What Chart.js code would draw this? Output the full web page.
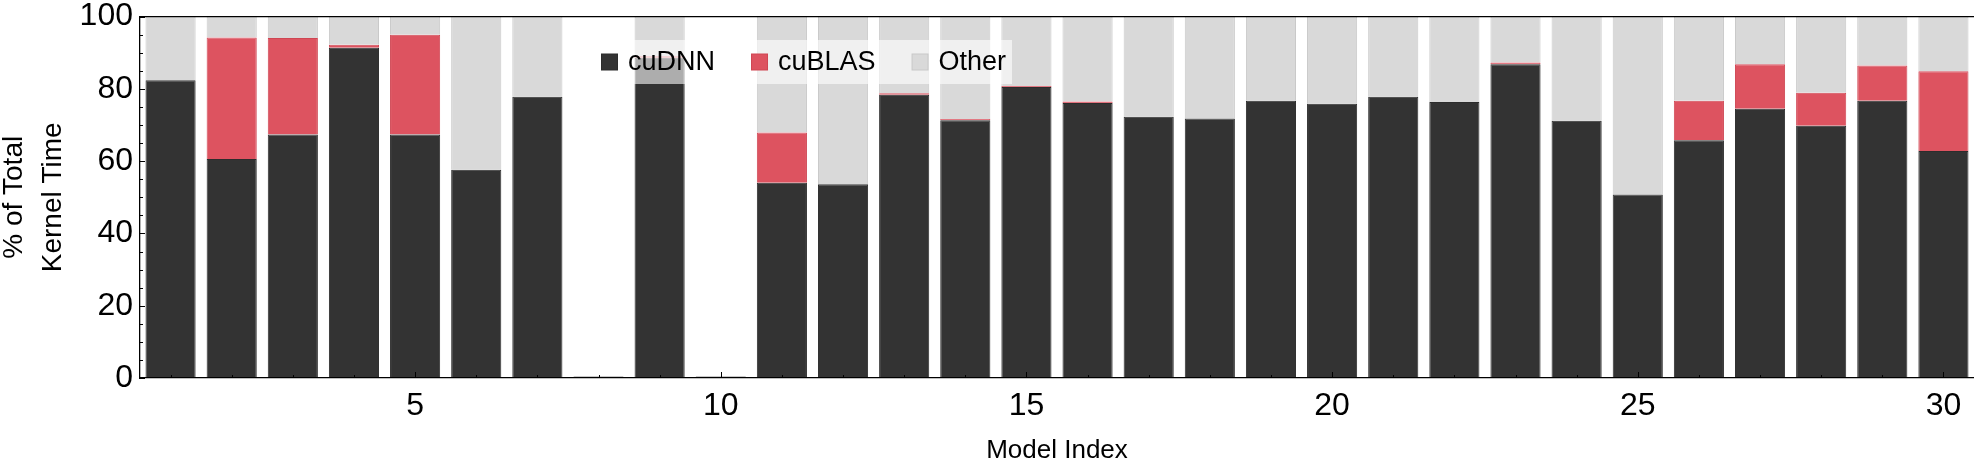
<!DOCTYPE html>
<html>
<head>
<meta charset="utf-8">
<script src="https://cdn.jsdelivr.net/npm/chart.js@4.4.0/dist/chart.umd.min.js"></script>
<style>
  html, body { margin: 0; padding: 0; background: #fff; }
  #wrap { width: 1974px; height: 459px; }
</style>
</head>
<body>
<div id="wrap"><canvas id="kernel-chart"></canvas></div>
<script>
// Data
const modelIndex = ['1','2','3','4','5','6','7','8','9','10','11','12','13','14','15',
  '16','17','18','19','20','21','22','23','24','25','26','27','28','29','30'];
const cudnn = [82.4, 60.6, 67.4, 91.4, 67.4, 57.6, 77.8, 0, 88.6, 0,
  54.0, 53.6, 78.4, 71.3, 80.5, 76.1, 72.3, 71.8, 76.7, 75.9,
  77.8, 76.4, 86.8, 71.2, 50.8, 65.8, 74.5, 69.8, 76.7, 62.8];
const cublas = [0, 33.6, 26.7, 0.8, 27.6, 0, 0, 0, 0.4, 0,
  13.9, 0, 0.4, 0.4, 0.3, 0.4, 0, 0, 0, 0,
  0, 0, 0.5, 0, 0, 10.9, 12.3, 9.1, 9.8, 22.1];
const other = [17.6, 5.8, 5.9, 7.8, 5.0, 42.4, 22.2, 0, 11.0, 0,
  32.1, 46.4, 21.2, 28.3, 19.2, 23.5, 27.7, 28.2, 23.3, 24.1,
  22.2, 23.6, 12.7, 28.8, 49.2, 23.3, 13.2, 21.1, 13.5, 15.1];
const xTickLabels = ['5', '10', '15', '20', '25', '30'];
const yTickLabels = [0, 20, 40, 60, 80, 100];

const FONT = '"Liberation Sans", Arial, Helvetica, sans-serif';
Chart.defaults.font.family = FONT;
Chart.defaults.color = '#000';

// inward ticks, top frame line and the legend box
const framePlugin = {
  id: 'frame',
  afterDraw(chart) {
    const c = chart.ctx;
    const area = chart.chartArea;
    const xs = chart.scales.x;
    const ys = chart.scales.y;
    c.save();
    c.strokeStyle = '#000';
    c.lineWidth = 1.3;
    c.beginPath();
    c.moveTo(area.left, area.top);
    c.lineTo(area.right, area.top);
    c.stroke();

    c.lineWidth = 1;
    c.beginPath();
    for (let v = 0; v <= 100; v += 5) {
      const py = Math.round(ys.getPixelForValue(v)) + 0.5;
      const len = yTickLabels.includes(v) ? 5 : 3;
      c.moveTo(area.left, py);
      c.lineTo(area.left + len, py);
    }
    modelIndex.forEach((lab, i) => {
      const px = Math.round(xs.getPixelForValue(i)) + 0.5;
      const len = xTickLabels.includes(lab) ? 6 : 3;
      c.moveTo(px, area.bottom);
      c.lineTo(px, area.bottom - len);
    });
    c.stroke();

    // legend
    const ds = chart.data.datasets;
    c.font = '27px ' + FONT;
    c.fillStyle = 'rgba(255,255,255,0.6)';
    c.fillRect(590, 40, 422, 44);
    let x = 601;
    const cy = 62;
    ds.forEach(d => {
      c.fillStyle = d.borderColor;
      c.fillRect(x, cy - 8.5, 17, 17);
      c.fillStyle = d.backgroundColor;
      c.fillRect(x + 1, cy - 7.5, 15, 15);
      c.fillStyle = '#000';
      c.textBaseline = 'middle';
      c.textAlign = 'left';
      c.fillText(d.label, x + 27, cy + 1);
      x += 27 + c.measureText(d.label).width + 36;
    });
    c.restore();
  }
};

const ctx = document.getElementById('kernel-chart').getContext('2d');
new Chart(ctx, {
  type: 'bar',
  data: {
    labels: modelIndex,
    datasets: [
      { label: 'cuDNN', data: cudnn, backgroundColor: '#333333', borderColor: '#2c2c2c', borderWidth: 1 },
      { label: 'cuBLAS', data: cublas, backgroundColor: '#dd5360', borderColor: '#cf4653', borderWidth: 1 },
      { label: 'Other', data: other, backgroundColor: '#d9d9d9', borderColor: '#c8c8c8', borderWidth: 1, minBarLength: 2 },
    ],
  },
  options: {
    responsive: true,
    maintainAspectRatio: false,
    animation: false,
    devicePixelRatio: 1,
    barPercentage: 0.82,
    categoryPercentage: 1,
    layout: { padding: { top: 11, right: 0, left: 0, bottom: 0 } },
    plugins: { legend: { display: false }, tooltip: { enabled: false } },
    scales: {
      x: {
        stacked: true,
        offset: true,
        grid: { display: false, drawTicks: false },
        border: { display: true, color: '#000', width: 1.3, z: 1 },
        ticks: {
          autoSkip: false,
          maxRotation: 0,
          padding: 9,
          font: { size: 32 },
          callback: (v, i) => xTickLabels.includes(modelIndex[i]) ? modelIndex[i] : '',
        },
        title: { display: true, text: 'Model Index', font: { size: 26, lineHeight: 0.6 }, padding: { top: 6, bottom: 0 } },
        afterFit: s => { s.height = 81; },
      },
      y: {
        stacked: true,
        min: 0,
        max: 100,
        grid: { display: false, drawTicks: false },
        border: { display: true, color: '#000', width: 1.3, z: 1 },
        ticks: {
          stepSize: 20,
          padding: 7,
          font: { size: 32, lineHeight: 0.6 },
        },
        title: { display: true, text: ['% of Total', 'Kernel Time'], font: { size: 28, lineHeight: 1.39 }, padding: { top: -5, bottom: 0 } },
        afterFit: s => { s.width = 140; },
      },
    },
  },
  plugins: [framePlugin],
});
</script>
</body>
</html>
